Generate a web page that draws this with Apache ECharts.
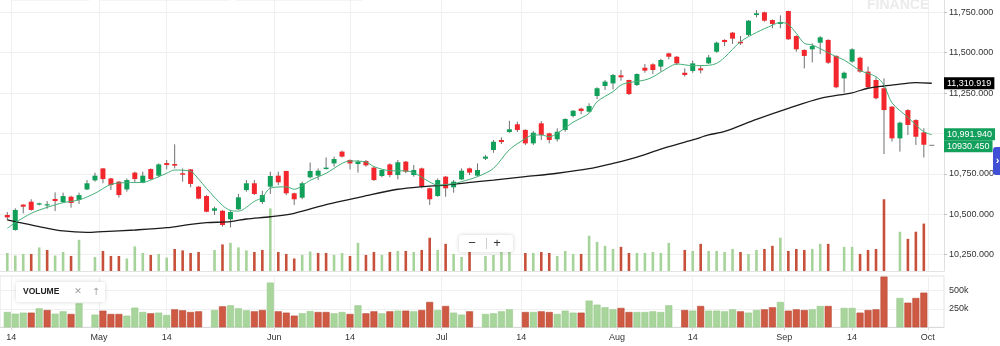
<!DOCTYPE html>
<html>
<head>
<meta charset="utf-8">
<script src="https://cdn.jsdelivr.net/npm/echarts@6.0.0/dist/echarts.min.js"></script>
<style>
html,body{margin:0;padding:0;background:#fff;}
#c{width:1000px;height:346px;}
</style>
</head>
<body>
<div id="c"></div>
<script>
// ---------- DATA ----------
const dates = [
'2018-04-13','2018-04-16','2018-04-17','2018-04-18','2018-04-19','2018-04-20','2018-04-23','2018-04-24','2018-04-25','2018-04-26',
'2018-04-27','2018-04-30','2018-05-02','2018-05-03','2018-05-04','2018-05-07','2018-05-08','2018-05-09','2018-05-10','2018-05-11',
'2018-05-14','2018-05-15','2018-05-16','2018-05-17','2018-05-18','2018-05-21','2018-05-22','2018-05-23','2018-05-24','2018-05-25',
'2018-05-28','2018-05-29','2018-05-30','2018-05-31','2018-06-01','2018-06-04','2018-06-05','2018-06-06','2018-06-07','2018-06-08',
'2018-06-11','2018-06-12','2018-06-13','2018-06-14','2018-06-15','2018-06-18','2018-06-19','2018-06-20','2018-06-21','2018-06-22',
'2018-06-25','2018-06-26','2018-06-27','2018-06-28','2018-06-29','2018-07-02','2018-07-03','2018-07-04','2018-07-05','2018-07-06',
'2018-07-09','2018-07-10','2018-07-11','2018-07-12','2018-07-13','2018-07-16','2018-07-17','2018-07-18','2018-07-19','2018-07-20',
'2018-07-23','2018-07-24','2018-07-25','2018-07-26','2018-07-27','2018-07-30','2018-07-31','2018-08-01','2018-08-02','2018-08-03',
'2018-08-06','2018-08-07','2018-08-08','2018-08-09','2018-08-10','2018-08-13','2018-08-14','2018-08-16','2018-08-17','2018-08-20',
'2018-08-21','2018-08-23','2018-08-24','2018-08-27','2018-08-28','2018-08-29','2018-08-30','2018-08-31','2018-09-03','2018-09-04',
'2018-09-05','2018-09-06','2018-09-07','2018-09-10','2018-09-11','2018-09-12','2018-09-14','2018-09-17','2018-09-18','2018-09-19',
'2018-09-21','2018-09-24','2018-09-25','2018-09-26','2018-09-27','2018-09-28','2018-10-01'];

const open = [10496,10403,10560,10578,10560,10555,10595,10576,10609,10589,
10654,10710,10784,10722,10702,10654,10758,10696,10780,10739,
10817,10811,10754,10778,10671,10613,10522,10522,10469,10531,
10650,10692,10576,10671,10739,10768,10630,10603,10729,10739,
10780,10815,10888,10836,10811,10830,10789,10737,10809,10743,
10826,10743,10784,10661,10613,10733,10667,10716,10784,10739,
10844,10898,10960,11009,11057,11022,10939,11063,11001,10964,
11022,11108,11154,11135,11232,11294,11310,11360,11331,11300,
11407,11428,11414,11496,11475,11376,11387,11403,11434,11506,
11579,11624,11568,11610,11733,11750,11702,11678,11758,11603,
11517,11521,11562,11579,11480,11341,11445,11469,11383,11331,
11280,11166,10970,11145,11083,11007,10930.45];

const close = [10481,10527,10547,10527,10568,10562,10582,10613,10570,10619,
10692,10739,10718,10681,10619,10712,10718,10739,10718,10809,
10805,10801,10745,10688,10597,10516,10537,10434,10514,10605,
10692,10626,10619,10737,10698,10630,10593,10692,10768,10770,
10789,10842,10857,10815,10826,10803,10712,10774,10743,10822,
10764,10774,10671,10593,10712,10661,10702,10770,10758,10774,
10857,10949,10947,11026,11022,10939,11005,10991,10960,11011,
11090,11141,11139,11170,11280,11321,11362,11348,11244,11368,
11389,11393,11455,11475,11434,11362,11434,11391,11471,11562,
11566,11587,11558,11698,11744,11698,11678,11690,11583,11521,
11480,11541,11595,11438,11286,11376,11521,11383,11286,11218,
11145,10970,11067,11053,10980,10930.45,10930.45];

const low = [10465,10399,10506,10522,10555,10535,10520,10570,10541,10564,
10650,10702,10692,10650,10603,10640,10696,10692,10712,10729,
10778,10784,10702,10667,10593,10512,10496,10424,10419,10527,
10640,10619,10564,10626,10681,10619,10558,10593,10722,10712,
10778,10795,10852,10778,10758,10795,10706,10729,10729,10716,
10754,10733,10661,10558,10609,10609,10634,10712,10743,10733,
10836,10881,10935,11005,11009,10929,10929,10960,10939,10950,
11011,11100,11119,11129,11213,11269,11273,11327,11238,11294,
11376,11368,11383,11459,11424,11352,11376,11372,11430,11500,
11541,11554,11548,11603,11719,11692,11651,11651,11579,11506,
11403,11440,11492,11430,11280,11253,11438,11376,11280,11211,
10873,10950,10888,10991,10929,10852,10930.45];

const high = [10514,10537,10562,10593,10572,10582,10636,10634,10615,10634,
10712,10758,10786,10726,10706,10722,10764,10764,10784,10815,
10836,10933,10784,10780,10675,10619,10547,10526,10527,10626,
10712,10712,10646,10764,10764,10770,10634,10702,10820,10784,
10852,10857,10894,10840,10836,10836,10795,10778,10815,10836,
10830,10805,10789,10665,10722,10737,10712,10784,10789,10815,
10867,10960,10976,11079,11073,11026,11015,11077,11005,11032,
11094,11145,11160,11187,11286,11331,11368,11393,11333,11372,
11430,11434,11463,11500,11480,11403,11451,11424,11486,11568,
11583,11628,11603,11702,11764,11754,11706,11731,11760,11607,
11521,11558,11603,11583,11484,11383,11527,11475,11414,11348,
11341,11170,11073,11150,11088,11032,10930.45];

// volume in thousands (null = no volume shown)
const volumeK = [209,186,200,200,259,236,186,218,182,327,
null,173,227,182,182,159,268,209,191,200,
168,245,232,209,218,null,236,286,300,259,
232,218,236,610,218,200,159,191,222,209,
209,191,209,182,300,191,218,191,218,227,
227,218,236,346,236,291,200,173,218,null,
182,191,218,245,null,209,209,218,209,182,
227,200,200,364,309,273,245,264,209,209,
209,218,209,300,null,236,227,291,227,227,
218,245,218,200,236,245,273,346,227,245,
236,245,291,291,null,264,264,200,236,245,
692,null,400,336,400,473,null];

// volume bar direction: u = up (green), d = down (red), - = none
const volumeDir = ('uuududuudu' + '-uddduuudu' + 'udddd-uduu' + 'udduddduud' + 'duududdudu' +
  'dudduduud-' + 'uuuu-duddu' + 'uuduuuuddu' + 'uuuu-duduu' + 'uuduuddudd' + 'duud-uuddd' + 'd-uddd-').split('');

// short moving average (green) : [bar index, value]
const maFast = [[0,10413],[1,10448],[3,10506],[5,10543],[7,10572],[9,10589],[11,10630],[13,10685],[15,10696],
[17,10697],[18,10712],[20,10754],[21,10774],[23,10766],[24,10718],[25,10660],[27,10555],[28,10524],[29,10520],
[31,10580],[32,10605],[33,10662],[35,10670],[36,10655],[38,10710],[40,10754],[42,10815],[43,10830],[45,10824],
[46,10795],[48,10770],[50,10768],[51,10758],[53,10700],[54,10681],[56,10690],[57,10702],[59,10733],[61,10784],
[63,10900],[65,10968],[66,10991],[67,10991],[68,10980],[69,11001],[71,11070],[73,11125],[74,11197],[76,11259],
[77,11300],[78,11315],[80,11331],[81,11350],[83,11410],[84,11430],[86,11420],[88,11422],[89,11434],[90,11471],
[92,11568],[94,11625],[96,11670],[97,11688],[98,11675],[99,11620],[100,11558],[101,11548],[103,11500],[104,11475],
[105,11455],[107,11390],[109,11352],[110,11300],[111,11190],[113,11100],[114,11053],[115,11011],[116,10991.94]];

// long moving average (black) : [bar index, value]
const maSlow = [[0,10465],[1,10455],[4,10424],[7,10397],[10,10388],[12,10393],[16,10403],[20,10417],[23,10438],
[25,10448],[28,10455],[30,10471],[33,10485],[36,10506],[40,10560],[45,10615],[49,10655],[52,10671],[55,10681],
[59,10702],[61,10712],[65,10733],[69,10754],[73,10782],[76,10815],[78,10840],[80,10870],[82,10904],[86,10960],
[88,10991],[90,11013],[94,11088],[98,11156],[102,11218],[106,11252],[108,11280],[110,11294],[112,11305],
[114,11315],[116,11310.919]];

const tickDates  = ['2018-04-14','2018-05-01','2018-05-14','2018-06-01','2018-06-14','2018-07-01',
                    '2018-07-14','2018-08-01','2018-08-14','2018-09-01','2018-09-14','2018-10-01'];
const tickLabels = ['14','May','14','Jun','14','Jul','14','Aug','14','Sep','14','Oct'];
const priceTicks = [10250,10500,10750,11000,11250,11500,11750];
const volumeTicksK = [250,500];
const priceTags = [
  {value: 11310.919, text: '11,310.919', bg: '#000000'},
  {value: 10991.940, text: '10,991.940', bg: '#13a05d'},
  {value: 10930.450, text: '10930.450',  bg: '#13a05d'}
];

// ---------- BUILD ----------
const FONT = '"Liberation Sans", Arial, Helvetica, sans-serif';
const UP = '#10a05a', DOWN = '#f2262c', FLAT = '#8c8c8c', WICK = '#707070';
const VUP = '#a8d59c', VDOWN = '#cf5a44';
const VUP2 = '#a6d399', VDOWN2 = '#c65039';

const tickPos = tickDates.map(function (d) {
  const k = dates.findIndex(function (x) { return x >= d; });
  return (dates[k] === d && d.slice(8) !== '01') ? k : k - 0.5;
});
function fmtX(v) {
  for (let j = 0; j < tickPos.length; j++) if (Math.abs(tickPos[j] - v) < 1e-6) return tickLabels[j];
  return '';
}
function fmtPrice(v) {
  return Number(v).toLocaleString('en-US', {minimumFractionDigits: 3, maximumFractionDigits: 3});
}

const candleData = dates.map(function (d, i) { return [i, open[i], close[i], low[i], high[i]]; });
const volOverlay = [], volLower = [];
volumeK.forEach(function (v, i) {
  if (v == null) return;
  const up = volumeDir[i] === 'u';
  volOverlay.push({value: [i, v], itemStyle: {color: up ? VUP2 : VDOWN2}});
  volLower.push({value: [i, v], itemStyle: {color: up ? VUP : VDOWN, borderColor: up ? '#98c98a' : '#b94a35', borderWidth: 0.6}});
});

function renderCandle(params, api) {
  const i = api.value(0);
  const o = api.value(1), c = api.value(2), l = api.value(3), h = api.value(4);
  const po = api.coord([i, o]), pc = api.coord([i, c]);
  const pl = api.coord([i, l]), ph = api.coord([i, h]);
  const x = po[0];
  const w = 5;
  const top = Math.min(po[1], pc[1]);
  const bh = Math.max(Math.abs(po[1] - pc[1]), 1.2);
  const col = c > o ? UP : (c < o ? DOWN : FLAT);
  const children = [];
  if (h !== l) {
    children.push({type: 'line', shape: {x1: x, y1: ph[1], x2: x, y2: pl[1]},
      style: {stroke: WICK, lineWidth: 1}});
  }
  children.push({type: 'rect', shape: {x: x - w / 2, y: top, width: w, height: bh},
    style: {fill: col}});
  return {type: 'group', children: children};
}

const P_MAX = 11826.1, P_MIN = 10149.2;
const X_MIN = -0.916, X_MAX = 117.53;

function tagLine(tags, offsets) {
  return {
    silent: true,
    symbol: ['none', 'none'],
    lineStyle: {color: 'rgba(0,0,0,0)', width: 0},
    label: {position: 'end', distance: 0},
    data: tags.map(function (t, k) {
      return {
        yAxis: t.value,
        label: {
          formatter: t.text, color: '#fff', backgroundColor: t.bg,
          fontSize: 9, fontFamily: FONT, padding: [2, 3, 1, 3], lineHeight: 9,
          offset: [0, offsets[k]]
        }
      };
    })
  };
}

const chart = echarts.init(document.getElementById('c'), null, {renderer: 'canvas'});
chart.setOption({
  animation: false,
  backgroundColor: '#fff',
  textStyle: {fontFamily: FONT},
  grid: [
    {left: 0, right: 56, top: 0, height: 271, containLabel: false, outerBoundsMode: 'none'},
    {left: 0, right: 56, top: 276, height: 51.3, containLabel: false, outerBoundsMode: 'none',
     show: true, borderColor: '#e2e2e2', borderWidth: 1, backgroundColor: 'transparent'}
  ],
  xAxis: [
    {type: 'value', gridIndex: 0, min: X_MIN, max: X_MAX,
     axisLine: {show: true, onZero: false, lineStyle: {color: '#e3e3e3'}},
     axisTick: {show: false, customValues: tickPos},
     axisLabel: {show: false, customValues: tickPos},
     splitLine: {show: true, lineStyle: {color: '#efefef', width: 1}}},
    {type: 'value', gridIndex: 1, min: X_MIN, max: X_MAX,
     axisLine: {show: true, onZero: false, lineStyle: {color: '#d9d9d9'}},
     axisTick: {show: true, length: 3, customValues: tickPos, lineStyle: {color: '#d9d9d9'}},
     axisLabel: {show: true, customValues: tickPos, formatter: fmtX, fontSize: 9, color: '#333',
                 margin: 6, fontFamily: FONT, hideOverlap: false},
     splitLine: {show: true, lineStyle: {color: '#efefef', width: 1}}}
  ],
  yAxis: [
    {type: 'value', gridIndex: 0, position: 'right', min: P_MIN, max: P_MAX, scale: true,
     axisLine: {show: true, onZero: false, lineStyle: {color: '#e0e0e0'}},
     axisTick: {show: true, length: 3, customValues: priceTicks, lineStyle: {color: '#c4c4c4'}},
     axisLabel: {show: true, customValues: priceTicks, formatter: fmtPrice, fontSize: 9, color: '#333',
                 margin: 5, fontFamily: FONT, hideOverlap: false},
     splitLine: {show: true, lineStyle: {color: '#efefef', width: 1}}},
    {type: 'value', gridIndex: 0, position: 'right', min: 46.8, max: 2484, show: false,
     axisLine: {show: false, onZero: false}, axisTick: {show: false}, axisLabel: {show: false},
     splitLine: {show: false}},
    {type: 'value', gridIndex: 1, position: 'right', min: 0, max: 700,
     axisLine: {show: false, onZero: false},
     axisTick: {show: false, customValues: volumeTicksK},
     axisLabel: {show: true, customValues: volumeTicksK, formatter: function (v) { return v + 'k'; },
                 fontSize: 9, color: '#333', margin: 5, fontFamily: FONT, hideOverlap: false},
     splitLine: {show: true, lineStyle: {color: '#f0f0f0', width: 1}}}
  ],
  series: [
    {type: 'bar', name: 'volOverlay', xAxisIndex: 0, yAxisIndex: 1, barWidth: 2.6,
     data: volOverlay, z: 1, clip: true, silent: true},
    {type: 'bar', name: 'volume', xAxisIndex: 1, yAxisIndex: 2, barWidth: 7,
     data: volLower, z: 1, clip: true, silent: true},
    {type: 'custom', name: 'price', xAxisIndex: 0, yAxisIndex: 0, renderItem: renderCandle,
     data: candleData, encode: {x: 0, y: [1, 2, 3, 4]}, z: 3, silent: true},
    {type: 'line', name: 'maSlow', xAxisIndex: 0, yAxisIndex: 0, data: maSlow, smooth: 0.3,
     symbol: 'none', lineStyle: {color: '#1b1b1b', width: 1.3}, z: 4, silent: true,
     markLine: tagLine(priceTags.slice(0, 1), [0])},
    {type: 'line', name: 'maFast', xAxisIndex: 0, yAxisIndex: 0, data: maFast, smooth: 0.3,
     symbol: 'none', lineStyle: {color: '#44b079', width: 1}, z: 4, silent: true,
     markLine: tagLine(priceTags.slice(1), [-0.5, 1.5])}
  ],
  graphic: [
    // faint clipped UI shadows at the very top
    {type: 'rect', shape: {x: 10, y: -4, width: 80, height: 5, r: 2}, style: {fill: '#f4f4f4'}, silent: true},
    {type: 'rect', shape: {x: 100, y: -4, width: 130, height: 5, r: 2}, style: {fill: '#f4f4f4'}, silent: true},
    {type: 'rect', shape: {x: 235, y: -4, width: 128, height: 5, r: 2}, style: {fill: '#f4f4f4'}, silent: true},
    // watermark
    {type: 'text', x: 867, y: 5, style: {text: 'FINANCE', fill: '#ebebeb', font: 'bold 14px ' + FONT,
     verticalAlign: 'middle', align: 'left'}, silent: true, z: 0},
    // zoom control
    {type: 'rect', shape: {x: 459, y: 235, width: 54, height: 17, r: 3},
     style: {fill: '#fff', shadowBlur: 4, shadowColor: 'rgba(0,0,0,0.18)'}, z: 10, silent: true},
    {type: 'text', x: 472, y: 243.5, style: {text: '\u2212', fill: '#333', font: '13px ' + FONT,
     align: 'center', verticalAlign: 'middle'}, z: 11, silent: true},
    {type: 'line', shape: {x1: 486.5, y1: 238, x2: 486.5, y2: 249}, style: {stroke: '#cfcfcf', lineWidth: 1}, z: 11, silent: true},
    {type: 'text', x: 497, y: 243.5, style: {text: '+', fill: '#333', font: '13px ' + FONT,
     align: 'center', verticalAlign: 'middle'}, z: 11, silent: true},
    // volume legend box
    {type: 'rect', shape: {x: 16, y: 282, width: 89, height: 20, r: 2},
     style: {fill: '#fff', shadowBlur: 4, shadowColor: 'rgba(0,0,0,0.16)'}, z: 10, silent: true},
    {type: 'text', x: 23, y: 292, style: {text: 'VOLUME', fill: '#222', font: 'bold 8.5px ' + FONT,
     verticalAlign: 'middle'}, z: 11, silent: true},
    {type: 'text', x: 78, y: 292, style: {text: '\u2715', fill: '#9a9a9a', font: '9px "DejaVu Sans", sans-serif',
     align: 'center', verticalAlign: 'middle'}, z: 11, silent: true},
    {type: 'text', x: 96, y: 292, style: {text: '\u2191', fill: '#a8a8a8', font: '10px "DejaVu Sans", sans-serif',
     align: 'center', verticalAlign: 'middle'}, z: 11, silent: true},
    // blue side tab
    {type: 'rect', shape: {x: 993, y: 147, width: 8, height: 28, r: [3, 0, 0, 3]},
     style: {fill: '#3f4fd6'}, z: 10, silent: true},
    {type: 'text', x: 997.5, y: 161, style: {text: '\u203a', fill: '#fff', font: 'bold 11px ' + FONT,
     align: 'center', verticalAlign: 'middle'}, z: 11, silent: true}
  ]
});
</script>
</body>
</html>
